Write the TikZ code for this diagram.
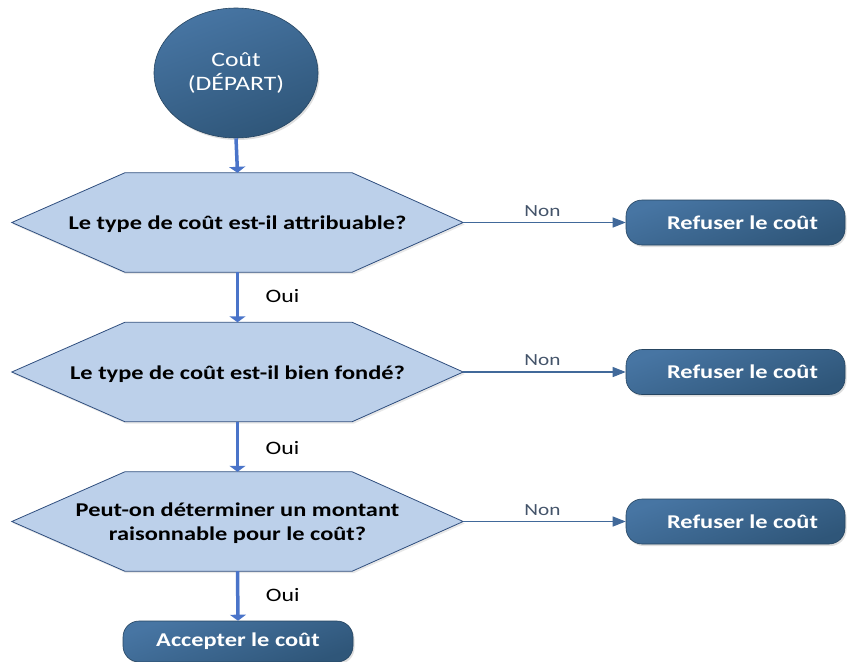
\documentclass[tikz,border=0pt]{standalone}
\usepackage{fontspec}
\setmainfont{Carlito}[FakeStretch=1.25]
\usetikzlibrary{calc,arrows.meta,shadows,shapes.geometric}
\definecolor{darkboxtop}{HTML}{4775A3}
\definecolor{darkboxbot}{HTML}{2F5679}
\definecolor{hexfill}{HTML}{BCD0EA}
\definecolor{hexline}{HTML}{2F4E7E}
\definecolor{flowblue}{HTML}{4A74C9}
\definecolor{noline}{HTML}{41699A}
\definecolor{nontext}{HTML}{44546A}
\tikzset{
  darkshape/.style={draw=darkboxbot!80!black, line width=0.6pt,
    top color=darkboxtop, bottom color=darkboxbot, shading angle=20,
    text=white, drop shadow={shadow xshift=1.5pt, shadow yshift=-2pt, opacity=0.25}},
  startnode/.style={darkshape, ellipse, minimum width=164pt, minimum height=130pt,
    inner sep=0pt, align=center, font=\fontsize{20.5}{24}\selectfont},
  refusebox/.style={darkshape, rounded corners=16pt, minimum width=219pt,
    minimum height=45pt, inner sep=0pt, font=\bfseries\fontsize{19.5}{23}\selectfont},
  hexframe/.style={minimum width=451pt, minimum height=99pt, inner sep=0pt},
  hextext/.style={align=center, yshift=-2pt, font=\bfseries\fontsize{19.5}{24}\selectfont},
  hexshape/.style={draw=hexline, line width=0.8pt, fill=hexfill,
    drop shadow={shadow xshift=1.5pt, shadow yshift=-2pt, opacity=0.18}},
  flow/.style={draw=flowblue, line width=3.5pt, -{Triangle[length=6pt,width=16pt]}},
  noarrow/.style={draw=noline, line width=1.2pt, -{Triangle[length=13pt,width=10pt]}},
  ouilabel/.style={font=\fontsize{19}{22}\selectfont, anchor=west},
  nonlabel/.style={font=\fontsize{17}{20}\selectfont, text=nontext},
}
\newcommand{\hexagonof}[1]{%
  \path[hexshape] (#1.west) -- ($(#1.north west)+(113pt,0)$) -- ($(#1.north east)-(111pt,0)$)
    -- (#1.east) -- ($(#1.south east)-(111pt,0)$) -- ($(#1.south west)+(113pt,0)$) -- cycle;}
\begin{document}
\begin{tikzpicture}[x=1pt,y=-1pt]
  \useasboundingbox (0,0) rectangle (847,662);

  % start
  \node[startnode] (start) at (236,73) {Coût\\(DÉPART)};

  % decision frames
  \node[hexframe] (q1) at (237.5,222.5) {};
  \node[hexframe] (q2) at (237.5,372) {};
  \node[hexframe] (q3) at (237.5,521.5) {};
  \hexagonof{q1}
  \hexagonof{q2}
  \hexagonof{q3}
  \node[hextext] (t1) at (q1) {Le type de coût est-il attribuable?};
  \node[hextext] (t2) at (q2) {Le type de coût est-il bien fondé?};
  \node[hextext] (t3) at (q3) {Peut-on déterminer un montant\\raisonnable pour le coût?};

  % outcomes
  \node[refusebox] (r1) at (735.5,222.5) {\hspace*{14pt}Refuser le coût};
  \node[refusebox] (r2) at (735.5,372) {\hspace*{14pt}Refuser le coût};
  \node[refusebox] (r3) at (735.5,521.5) {\hspace*{14pt}Refuser le coût};
  \node[refusebox, minimum width=230pt, minimum height=41pt] (acc) at (238,641.5) {Accepter le coût};

  % connectors
  \draw[flow] (start.south) -- (q1.north);
  \draw[flow] (q1.south) -- node[ouilabel, xshift=23pt, yshift=1pt] {Oui} (q2.north);
  \draw[flow] (q2.south) -- node[ouilabel, xshift=23pt, yshift=-1pt] {Oui} (q3.north);
  \draw[flow] (q3.south) -- node[ouilabel, xshift=23pt, yshift=1pt] {Oui} (acc.north);

  \draw[noarrow] (q1.east) -- node[nonlabel, above=2pt, xshift=-2pt] {Non} (r1.west);
  \draw[noarrow] (q2.east) -- node[nonlabel, above=2pt, xshift=-2pt] {Non} (r2.west);
  \draw[noarrow] (q3.east) -- node[nonlabel, above=2pt, xshift=-2pt] {Non} (r3.west);
\end{tikzpicture}
\end{document}
